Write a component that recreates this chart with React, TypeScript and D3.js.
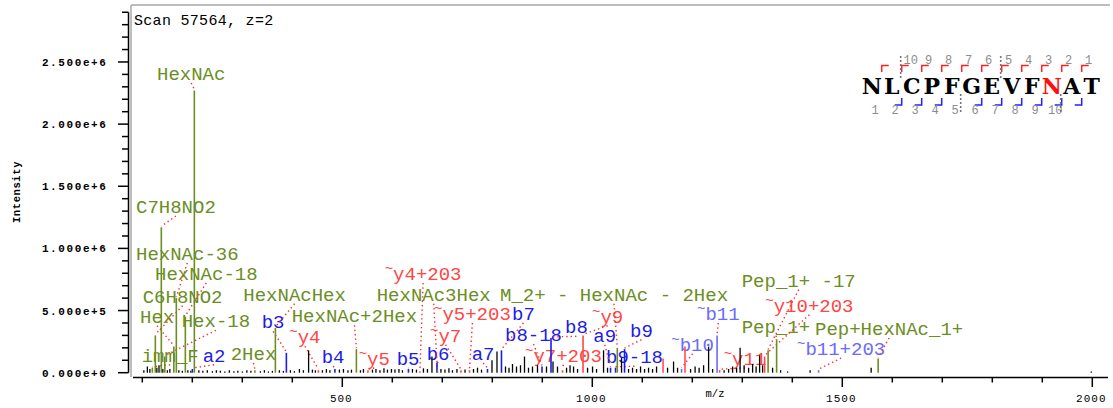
import React from "react";
import * as d3 from "d3";

// ---- spectrum data (m/z, intensity) ----
const scanTitle = "Scan 57564, z=2";
const peptide = "NLCPFGEVFNAT";
const glycoSiteIndex = 9;

// annotated fragment ions: label, kind, peak m/z, peak intensity, label m/z, label intensity
const ionLabels = ["imm_F", "C6H8NO2", "C7H8NO2", "Hex-18", "Hex", "HexNAc-36", "HexNAc-18", "a2", "HexNAc",
  "2Hex", "HexNAcHex", "b3", "~y4", "b4", "HexNAc+2Hex", "~y5", "b5", "~y4+203", "b6", "HexNAc3Hex", "~y7",
  "~y5+203", "a7", "b7", "b8-18", "b8", "~y7+203", "~y9", "a9", "b9-18", "M_2+ - HexNAc - 2Hex", "b9",
  "~b10", "~b11", "~y11", "~y10+203", "Pep_1+ -17", "Pep_1+", "~b11+203", "Pep+HexNAc_1+"];
const ionKinds = ["g", "g", "g", "g", "g", "g", "g", "b", "g",
  "g", "g", "b", "y", "b", "g", "y", "b", "y", "b", "g", "y",
  "y", "b", "b", "b", "b", "y", "y", "b", "b", "g", "b",
  "bx", "bx", "y", "y", "g", "g", "bx", "g"];
const ionMz = [120.08, 126.05, 138.05, 145.05, 163.06, 168.07, 186.08, 200.14, 204.09,
  325.11, 366.14, 388.16, 452.22, 485.21, 528.19, 551.29, 632.28, 655.3, 689.3, 690.24, 737.35,
  754.4, 790.35, 818.34, 899.4, 917.41, 940.4, 981.47, 1036.49, 1046.5, 1050.0, 1064.48,
  1178.52, 1249.56, 1254.6, 1344.6, 1351.6, 1368.62, 1452.6, 1571.7];
const ionIntensity = [0.04, 0.30, 1.17, 0.13, 0.21, 0.60, 0.45, 0.03, 2.27,
  0.02, 0.36, 0.16, 0.02, 0.03, 0.19, 0.02, 0.03, 0.012, 0.08, 0.02, 0.02,
  0.02, 0.03, 0.18, 0.05, 0.28, 0.02, 0.30, 0.04, 0.04, 0.20, 0.19,
  0.03, 0.30, 0.02, 0.13, 0.18, 0.27, 0.02, 0.115];
const labelMz = [98.8, 100.8, 87.4, 178.8, 95.4, 87.4, 125.4, 220.8, 129.4,
  276.8, 302.0, 338.8, 394.0, 458.8, 398.8, 532.8, 608.8, 584.8, 668.8, 568.8, 675.4,
  683.4, 758.8, 839.4, 825.4, 945.4, 865.4, 999.4, 1002.0, 1027.4, 815.4, 1075.4,
  1158.0, 1209.4, 1262.8, 1346.0, 1298.8, 1298.8, 1409.4, 1445.4];
const labelIntensity = [0.088, 0.563, 1.285, 0.365, 0.402, 0.907, 0.746, 0.088, 2.355,
  0.102, 0.579, 0.357, 0.237, 0.076, 0.405, 0.062, 0.062, 0.746, 0.102, 0.579, 0.249,
  0.424, 0.102, 0.424, 0.255, 0.317, 0.088, 0.402, 0.249, 0.076, 0.579, 0.290,
  0.177, 0.424, 0.062, 0.491, 0.692, 0.322, 0.142, 0.303];

// coloured peaks without a label
const extraMz = [1141.5, 1185.4];
const extraKind = ["y", "y"];
const extraIntensity = [0.115, 0.21];

// unassigned peaks (m/z, intensity in 1e6)
const noisePeaks: [number, number][] = [
  [103.1, 0.02], [110.1, 0.05], [115.1, 0.03], [129.1, 0.04], [133.4, 0.06], [141.1, 0.03], [150.1, 0.02],
  [155.1, 0.03], [173.1, 0.02], [180.1, 0.015], [191.1, 0.02], [197.1, 0.015], [213.1, 0.02], [221.1, 0.015],
  [230.1, 0.02], [240.2, 0.012], [248.1, 0.02], [256.1, 0.015], [265.1, 0.01], [274.1, 0.02], [283.2, 0.012],
  [291.1, 0.015], [300.2, 0.01], [309.1, 0.02], [317.2, 0.015], [336.2, 0.012], [344.2, 0.02], [352.2, 0.01],
  [360.2, 0.015], [374.2, 0.02], [382.2, 0.015], [396.2, 0.02], [404.2, 0.012], [414.2, 0.03], [422.2, 0.02],
  [432.6, 0.18], [440.2, 0.025], [446.2, 0.02], [460.2, 0.02], [468.2, 0.03], [475.2, 0.02], [494.2, 0.025],
  [502.3, 0.03], [511.3, 0.02], [518.3, 0.025], [536.3, 0.02], [542.3, 0.03], [560.3, 0.025], [567.3, 0.03],
  [575.3, 0.02], [583.3, 0.035], [590.3, 0.025], [598.3, 0.03], [605.3, 0.025], [613.3, 0.03], [620.3, 0.02],
  [640.3, 0.03], [648.3, 0.025], [662.3, 0.035], [670.3, 0.03], [679.3, 0.13], [697.3, 0.03], [705.3, 0.025],
  [713.3, 0.035], [720.3, 0.02], [729.3, 0.03], [745.4, 0.025], [762.4, 0.03], [770.4, 0.04], [778.4, 0.025],
  [799.4, 0.10], [809.4, 0.17], [826.4, 0.05], [833.4, 0.04], [840.4, 0.07], [848.4, 0.05], [856.4, 0.06],
  [864.4, 0.13], [872.4, 0.04], [880.4, 0.05], [890.4, 0.06], [908.4, 0.05], [921.4, 0.09], [930.4, 0.05],
  [948.5, 0.04], [955.5, 0.06], [962.5, 0.05], [970.5, 0.03], [990.5, 0.04], [1000.5, 0.05], [1008.5, 0.03],
  [1022.5, 0.18], [1030.5, 0.04], [1058.5, 0.12], [1072.5, 0.03], [1080.5, 0.04], [1088.5, 0.03],
  [1096.5, 0.05], [1104.5, 0.03], [1112.5, 0.04], [1120.5, 0.03], [1128.5, 0.05], [1150.5, 0.04],
  [1162.5, 0.09], [1170.5, 0.04], [1196.5, 0.03], [1205.6, 0.05], [1213.6, 0.04], [1222.6, 0.06],
  [1232.6, 0.21], [1240.6, 0.03], [1263.6, 0.02], [1272.6, 0.03], [1280.6, 0.05], [1288.6, 0.04],
  [1295.6, 0.20], [1303.6, 0.06], [1312.6, 0.04], [1320.6, 0.07], [1327.6, 0.05], [1334.6, 0.14],
  [1340.6, 0.06], [1360.6, 0.04], [1376.6, 0.02], [1390.6, 0.01], [1435.7, 0.02], [1557.7, 0.04],
  [1998.0, 0.01],
];

const yLabelValues = [0, 5e5, 1e6, 1.5e6, 2e6, 2.5e6];
const yLabelText = ["0.000e+0", "5.000e+5", "1.000e+6", "1.500e+6", "2.000e+6", "2.500e+6"];
const xLabelValues = [500, 1000, 1500, 2000];

const kindColor: Record<string, string> = {
  g: "#6b8e23",
  b: "#1c1ce6",
  bx: "#6a6aff",
  y: "#ff4545",
};

const MONO = "'Liberation Mono', 'DejaVu Sans Mono', monospace";
const SEQ_FONT = "'DejaVu Serif', 'Liberation Serif', serif";

const App = () => {
  const width = 1113;
  const height = 408;

  const x = d3.scaleLinear().domain([0, 2000]).range([92.3, 1092.3]);
  const y = d3.scaleLinear().domain([0, 2.96e6]).range([372.7, 4.8]);

  const yMinor = d3.range(0, 2.9e6 + 1, 1e5);
  const xMinor = d3.range(100, 2001, 100);

  const charW = 19 * 0.6;
  const tildeW = 14 * 0.6;

  const annotations = ionLabels.map((label, i) => {
    const tilde = label.startsWith("~");
    const rest = tilde ? label.slice(1) : label;
    const w = rest.length * charW + (tilde ? tildeW : 0);
    const lx = x(labelMz[i]);
    const ly = y(labelIntensity[i] * 1e6);
    const px = x(ionMz[i]);
    const py = y(ionIntensity[i] * 1e6);
    return { label, tilde, rest, w, lx, ly, px, py, color: kindColor[ionKinds[i]] };
  });

  // sequence map geometry
  const seqLeft = 861.7;
  const cell = 20;
  const boundary = (k: number) => seqLeft + k * cell;
  const redMarks = d3.range(1, 12);
  const blueMarks = [2, 3, 4, 6, 7, 8, 9, 10, 11];
  const grayTop = [2, 7];
  const grayBottom = [5, 10];

  return (
    <div>
      <svg width={width} height={height} style={{ display: "block", position: "absolute", left: 0, top: 0 }}>
        <rect width={width} height={height} fill="#fff" />

        {/* frame */}
        <line x1={131} x2={1110} y1={5} y2={5} stroke="#a8a8a8" strokeWidth={1.5} />
        <line x1={131} x2={131} y1={5} y2={377} stroke="#a8a8a8" strokeWidth={1.5} />

        <text x={134} y={25} fontFamily={MONO} fontSize={15} letterSpacing={0.3} fill="#000">
          {scanTitle}
        </text>

        {/* y axis */}
        <line x1={128.5} x2={128.5} y1={y(2.9e6)} y2={y(0)} stroke="#000" strokeWidth={1.5} />
        {yMinor.map((v) => {
          const major = Math.round(v) % 500000 === 0;
          return (
            <line key={v} x1={major ? 118 : 122} x2={128.5} y1={y(v)} y2={y(v)} stroke="#000" strokeWidth={1.5} />
          );
        })}
        {yLabelValues.map((v, i) => (
          <text key={v} x={107.5} y={y(v) + 4} textAnchor="end" fontFamily={MONO} fontSize={11}
            fontWeight="bold" letterSpacing={1.6} fill="#000">
            {yLabelText[i]}
          </text>
        ))}
        <text transform="translate(20,192) rotate(-90)" textAnchor="middle" fontFamily={MONO}
          fontSize={10.5} fontWeight="bold" letterSpacing={0.6} fill="#000">
          Intensity
        </text>

        {/* x axis */}
        <line x1={133} x2={1108} y1={377.5} y2={377.5} stroke="#000" strokeWidth={1.5} />
        {xMinor.map((v) => {
          const major = v % 500 === 0;
          return (
            <line key={v} x1={x(v)} x2={x(v)} y1={377.5} y2={major ? 387 : 382.5} stroke="#000" strokeWidth={1.5} />
          );
        })}
        {xLabelValues.map((v) => (
          <text key={v} x={x(v) - 1} y={402} textAnchor="middle" fontFamily={MONO} fontSize={11}
            letterSpacing={1} fill="#000">
            {v}
          </text>
        ))}
        <text x={715} y={397} textAnchor="middle" fontFamily={MONO} fontSize={10.5} fill="#000">
          m/z
        </text>

        {/* labels */}
        {annotations.map((a, i) => (
          <text key={"l" + i} x={a.lx} y={a.ly} fill={a.color} fontFamily={MONO} fontSize={19}>
            {a.tilde && (
              <tspan fontSize={14} dy={-7}>
                ~
              </tspan>
            )}
            <tspan dy={a.tilde ? 7 : 0}>{a.rest}</tspan>
          </text>
        ))}

        {/* connectors */}
        {annotations.map((a, i) => {
          const cx = a.lx + a.w / 2;
          const cy = a.ly + 3;
          return (
            <line key={"c" + i} x1={cx} y1={cy} x2={a.px} y2={a.py - 1} stroke="#ff2a2a"
              strokeWidth={1.4} strokeDasharray="1.4 3" />
          );
        })}

        {/* peaks */}
        {noisePeaks.map(([mz, v], i) => (
          <line key={"n" + i} x1={x(mz)} x2={x(mz)} y1={y(0)} y2={y(v * 1e6)} stroke="#000" strokeWidth={1.3} />
        ))}
        {extraMz.map((mz, i) => (
          <line key={"e" + i} x1={x(mz)} x2={x(mz)} y1={y(0)} y2={y(extraIntensity[i] * 1e6)}
            stroke={kindColor[extraKind[i]]} strokeWidth={1.5} />
        ))}
        {annotations.map((a, i) => (
          <line key={"p" + i} x1={a.px} x2={a.px} y1={y(0)} y2={a.py} stroke={a.color} strokeWidth={1.6} />
        ))}

        {/* peptide sequence map */}
        {peptide.split("").map((ch, i) => {
          const cx = seqLeft + i * cell + 10;
          return (
            <text key={"s" + i} x={cx} y={94} textAnchor="middle"
              fontFamily={SEQ_FONT} fontSize={22} fontWeight="bold" fill={i === glycoSiteIndex ? "#ff1010" : "#000"}>
              {ch}
            </text>
          );
        })}
        {redMarks.map((k) => (
          <path key={"r" + k} d={`M${boundary(k)},72V65.5H${boundary(k) + 7}`} fill="none" stroke="#ff2020" strokeWidth={1.5} />
        ))}
        {redMarks.slice(1).map((k) => (
          <text key={"rn" + k} x={boundary(k) + (12 - k >= 10 ? 9 : 7)} y={64} textAnchor="middle"
            fontFamily={MONO} fontSize={12} fill="#8c8c8c">
            {12 - k}
          </text>
        ))}
        {blueMarks.map((k) => (
          <path key={"b" + k} d={`M${boundary(k)},98V105H${boundary(k) - 7}`} fill="none" stroke="#2020ff" strokeWidth={1.5} />
        ))}
        {d3.range(1, 11).map((k) => (
          <text key={"bn" + k} x={boundary(k) - 6.5} y={114} textAnchor="middle" fontFamily={MONO}
            fontSize={12} fill="#8c8c8c">
            {k}
          </text>
        ))}
        {grayTop.map((k) => (
          <line key={"gt" + k} x1={boundary(k) - 1} x2={boundary(k) - 1} y1={56} y2={78} stroke="#777"
            strokeWidth={1.6} strokeDasharray="2 2" />
        ))}
        {grayBottom.map((k) => (
          <line key={"gb" + k} x1={boundary(k) - 1} x2={boundary(k) - 1} y1={94} y2={114} stroke="#777"
            strokeWidth={1.6} strokeDasharray="2 2" />
        ))}
      </svg>
    </div>
  );
};

export default App;
